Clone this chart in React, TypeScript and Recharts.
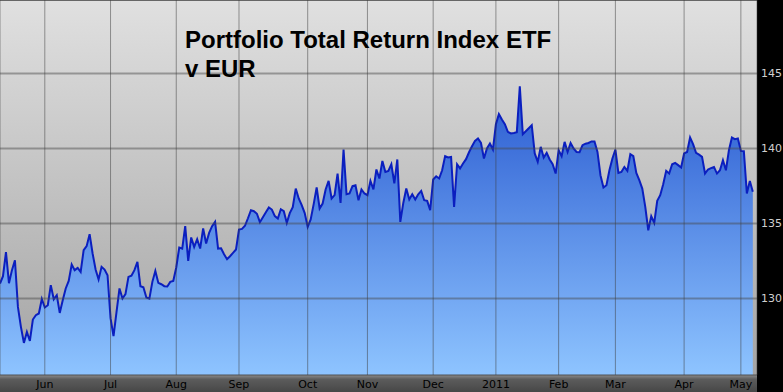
import { AreaChart, Area, XAxis, YAxis, CartesianGrid } from "recharts";

// index level, one value per trading day (May 2010 - May 2011)
const values = [
  131.0, 131.49, 133.09, 131.02, 131.89, 132.55, 129.44, 128.11, 127.04, 127.77,
  127.17, 128.6, 128.89, 129.0, 129.97, 129.4, 129.55, 130.89, 129.95, 130.22,
  129.04, 129.89, 130.67, 131.17, 132.27, 131.89, 132.04, 131.77, 133.22, 133.49,
  134.29, 133.0, 131.93, 131.27, 132.11, 131.93, 131.55, 128.69, 127.49, 129.09,
  130.67, 130.0, 130.29, 131.44, 131.52, 131.89, 132.44, 130.82, 130.75, 130.07,
  129.99, 131.11, 131.84, 131.04, 130.95, 130.82, 130.8, 131.11, 131.17, 132.07,
  133.4, 133.33, 134.82, 132.51, 134.07, 133.44, 133.95, 133.33, 134.67, 133.67,
  134.37, 134.82, 135.11, 133.33, 133.35, 132.95, 132.62, 132.82, 133.04, 133.27,
  134.6, 134.64, 134.85, 135.35, 135.89, 135.82, 135.65, 135.09, 135.42, 135.75,
  136.07, 135.93, 135.49, 135.33, 135.95, 135.82, 135.04, 135.69, 136.09, 137.33,
  136.67, 136.22, 135.69, 134.77, 135.27, 136.29, 137.4, 136.0, 136.33, 137.27,
  137.84, 136.67, 136.89, 138.33, 136.37, 139.93, 136.95, 137.0, 137.49, 137.55,
  136.55, 137.27, 137.0, 136.89, 137.84, 137.27, 138.6, 138.0, 139.17, 138.44,
  138.51, 138.95, 137.67, 139.27, 135.11, 136.37, 137.33, 136.6, 136.95, 136.6,
  136.95, 137.17, 136.55, 136.51, 135.89, 137.93, 138.15, 138.0, 138.55, 139.49,
  139.4, 139.44, 136.11, 138.95, 138.67, 139.0, 139.29, 139.75, 140.15, 140.51,
  140.67, 140.37, 139.33, 140.0, 140.33, 139.93, 141.62, 142.29, 141.93, 141.62,
  141.11, 141.0, 141.04, 141.09, 144.15, 140.95, 141.15, 141.35, 141.55, 139.67,
  139.11, 140.11, 139.4, 139.71, 139.27, 138.95, 138.33, 139.89, 139.49, 140.44,
  139.77, 140.37, 140.0, 139.77, 139.75, 140.22, 140.32, 140.37, 140.47, 140.47,
  139.77, 138.22, 137.4, 137.55, 138.55, 139.33, 139.93, 138.37, 138.44, 138.77,
  138.51, 139.62, 139.49, 138.37, 137.89, 137.33, 136.11, 134.55, 135.49, 135.04,
  136.51, 136.89, 137.62, 138.51, 138.33, 138.95, 139.04, 138.89, 138.73, 139.67,
  139.77, 140.73, 140.29, 139.71, 139.59, 139.44, 138.33, 138.6, 138.69, 138.77,
  138.33, 138.55, 139.22, 138.55, 139.89, 140.73, 140.62, 140.67, 139.84, 139.82,
  137.0, 137.84, 137.11,
];

// trading-day index where each month starts
const monthTicks = [15, 37, 59, 80, 103, 123, 145, 166, 187, 206, 229, 248];
const monthLabels = ["Jun", "Jul", "Aug", "Sep", "Oct", "Nov", "Dec", "2011", "Feb", "Mar", "Apr", "May"];
const priceTicks = [130, 135, 140, 145];

const data = values.map((v, i) => ({ day: i, value: v }));

export default function App() {
  return (
    <div
      style={{
        position: "absolute",
        left: 0,
        top: 0,
        width: 783,
        height: 392,
        background: "#000",
        overflow: "hidden",
      }}
    >
      {/* plot background */}
      <div
        style={{
          position: "absolute",
          left: 0,
          top: 0,
          width: 757,
          height: 375,
          background: "linear-gradient(#e0e0e0, #a4a4a4)",
          boxShadow: "inset 0 1px 0 #808080",
        }}
      />
      {/* x axis band */}
      <div
        style={{
          position: "absolute",
          left: 0,
          top: 375,
          width: 757,
          height: 17,
          background: "linear-gradient(#8c8c8c, #5c5c5c 25%, #474747)",
        }}
      />
      <AreaChart
        width={783}
        height={392}
        data={data}
        margin={{ top: 0, right: 0, left: 0, bottom: 0 }}
        style={{ position: "absolute", left: 0, top: 0 }}
      >
        <defs>
          <linearGradient id="fillBlue" gradientUnits="userSpaceOnUse" x1="0" y1="90" x2="0" y2="375">
            <stop offset="0" stopColor="#2b5cd1" />
            <stop offset="1" stopColor="#8ec4ff" />
          </linearGradient>
        </defs>
        <XAxis
          dataKey="day"
          type="number"
          domain={[0, 253.4]}
          ticks={monthTicks}
          interval={0}
          allowDataOverflow
          tickFormatter={(t) => monthLabels[monthTicks.indexOf(t)]}
          tickLine={false}
          axisLine={false}
          tickSize={3}
          tickMargin={2}
          height={17}
          tick={{ fontSize: 11, fill: "#000", fontFamily: "DejaVu Sans" }}
        />
        <YAxis
          orientation="right"
          type="number"
          domain={[124.9, 149.9]}
          ticks={priceTicks}
          interval={0}
          allowDataOverflow
          tickLine={false}
          axisLine={false}
          tickSize={2}
          tickMargin={2}
          width={26}
          tick={{ fontSize: 11, fill: "#cfcfcf", fontFamily: "DejaVu Sans", textAnchor: "start" }}
        />
        <Area
          type="linear"
          dataKey="value"
          stroke="#0b1fbf"
          strokeWidth={2}
          fill="url(#fillBlue)"
          fillOpacity={1}
          baseValue="dataMin"
          isAnimationActive={false}
          dot={false}
          activeDot={false}
        />
        <CartesianGrid zIndex={500} vertical={false} stroke="rgba(70,70,70,0.45)" strokeWidth={2} />
        <CartesianGrid zIndex={500} horizontal={false} stroke="rgba(60,60,60,0.5)" strokeWidth={1} />
      </AreaChart>
      <div
        style={{
          position: "absolute",
          left: 185,
          top: 26,
          fontFamily: "'Liberation Sans', Arial, sans-serif",
          fontWeight: "bold",
          fontSize: 24,
          lineHeight: "28.5px",
          color: "#000",
          whiteSpace: "nowrap",
        }}
      >
        Portfolio Total Return Index ETF
        <br />v EUR
      </div>
    </div>
  );
}
